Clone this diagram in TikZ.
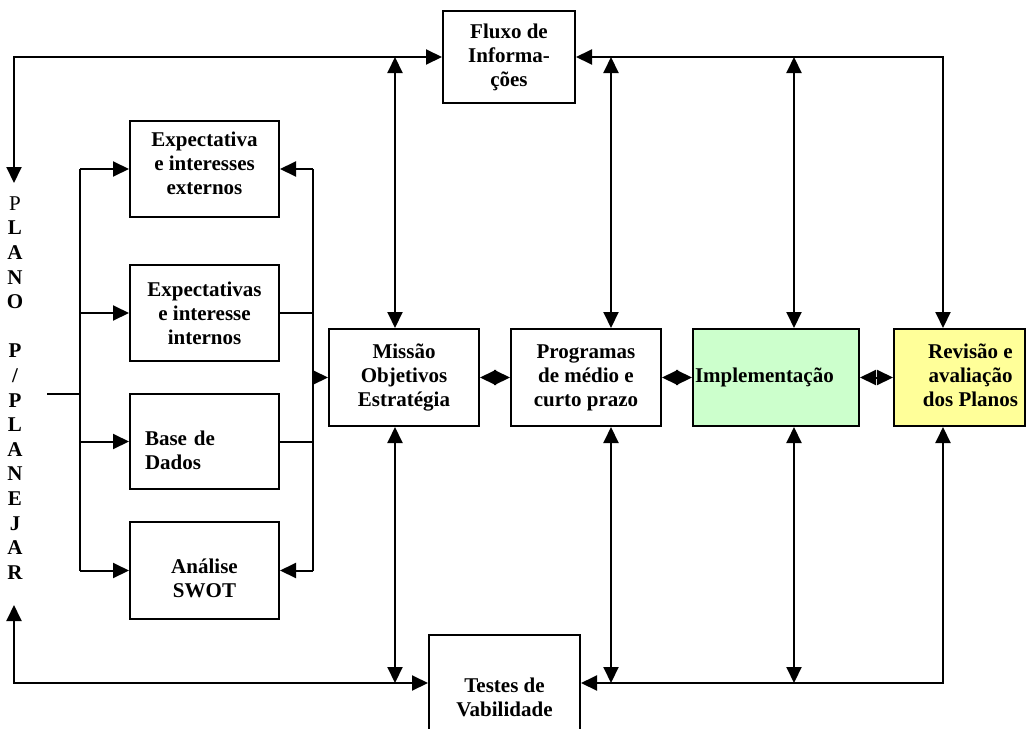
\documentclass[tikz,border=0pt]{standalone}
\usepackage{fontspec}
\setmainfont{Liberation Serif}
\usetikzlibrary{arrows.meta}

% lowered block of lines: #1 drop, #2 column type, #3 lines
\newcommand\droptext[3]{\raisebox{-#1}[\height][\depth]{\begin{tabular}{@{}#2@{}}#3\end{tabular}}}

\begin{document}
\begin{tikzpicture}[x=0.5pt,y=-0.5pt,line width=1pt,
  box/.style={draw,inner sep=0pt,align=center,font=\fontsize{10.5}{12}\selectfont\bfseries},
  arr/.style={-{Triangle[length=8pt,width=7.5pt]}},
  dbl/.style={{Triangle[length=8pt,width=7.5pt]}-{Triangle[length=8pt,width=7.5pt]}}]
\useasboundingbox (0,0) rectangle (1027,728);

% rows and columns of the long connectors
\coordinate (top) at (0,57);
\coordinate (bot) at (0,683);
\coordinate (m) at (395,0);
\coordinate (p) at (611,0);
\coordinate (i) at (794,0);
\coordinate (r) at (943,0);
\coordinate (lb) at (80,0);
\coordinate (rb) at (313,0);
\coordinate (in) at (47,394);
\coordinate (pt) at (14,183);
\coordinate (pb) at (14,605);

% top and bottom boxes
\node[box,minimum width=66pt,minimum height=46pt] (fluxo) at (509,57) {Fluxo de\\Informa-\\ções};
\node[box,minimum width=75.5pt,minimum height=62.5pt] (testes) at (504.5,697.5) {Testes de\\Vabilidade};

% main row
\node[box,minimum width=75pt,minimum height=48.5pt] (missao) at (404,377.5) {Missão\\Objetivos\\Estratégia};
\node[box,minimum width=75pt,minimum height=48.5pt] (prog) at (586,377.5) {Programas\\de médio e\\curto prazo};
\node[box,fill={rgb,255:red,204;green,255;blue,204},minimum height=48.5pt,
  text width=81pt,inner xsep=1pt,align=left] (impl) at (776,377.5) {Implementação};
\node[box,fill={rgb,255:red,255;green,255;blue,153},minimum width=65.5pt,minimum height=48.5pt] (rev) at (959.5,377.5)
  {\hspace*{11pt}\droptext{0pt}{c}{Revisão e\\avaliação\\dos Planos}};

% left column
\node[box,minimum width=74.5pt,minimum height=48pt] (expext) at (204.5,169) {\droptext{-1.5pt}{c}{Expectativa\\e interesses\\externos}};
\node[box,minimum width=74.5pt,minimum height=48pt] (expint) at (204.5,313) {Expectativas\\e interesse\\internos};
\node[box,minimum height=47.5pt,text width=59.5pt,inner xsep=7.5pt,align=left] (base) at (204.5,441.5)
  {\droptext{5.5pt}{l}{Base de\\Dados}};
\node[box,minimum width=74.5pt,minimum height=48.5pt] (swot) at (204.5,570.5) {\droptext{5pt}{c}{Análise\\SWOT}};

% vertical text
\node[align=center,font=\fontsize{10.5}{12.3}\selectfont\bfseries] (plano) at (15,388)
  {{\mdseries P}\\L\\A\\N\\O\\~\\P\\/\\P\\L\\A\\N\\E\\J\\A\\R};

% left buses
\draw (in) -- (in -| lb);
\draw (expext.west -| lb) -- (swot.west -| lb);
\foreach \b in {expext,expint,base,swot}
  \draw[arr] (\b.west -| lb) -- (\b.west);
\draw (expext.east -| rb) -- (swot.east -| rb);
\draw[arr] (expext.east -| rb) -- (expext.east);
\draw[arr] (swot.east -| rb) -- (swot.east);
\draw (expint.east) -- (expint.east -| rb);
\draw (base.east) -- (base.east -| rb);
\draw[arr] (missao.west -| rb) -- (missao.west);

% main row links
\draw[dbl] (missao.east) -- (prog.west);
\draw[dbl] (prog.east) -- (impl.west);
\draw[dbl] (impl.east) -- (rev.west);

% loop over the top
\draw[dbl] (pt) |- (fluxo.west);
\draw[dbl] (rev.north -| r) |- (fluxo.east);
\draw[dbl] (missao.north -| m) -- (top -| m);
\draw[dbl] (prog.north -| p) -- (top -| p);
\draw[dbl] (impl.north -| i) -- (top -| i);

% loop over the bottom
\draw[dbl] (pb) |- (testes.west |- bot);
\draw[dbl] (rev.south -| r) |- (testes.east |- bot);
\draw[dbl] (missao.south -| m) -- (bot -| m);
\draw[dbl] (prog.south -| p) -- (bot -| p);
\draw[dbl] (impl.south -| i) -- (bot -| i);

\end{tikzpicture}
\end{document}
